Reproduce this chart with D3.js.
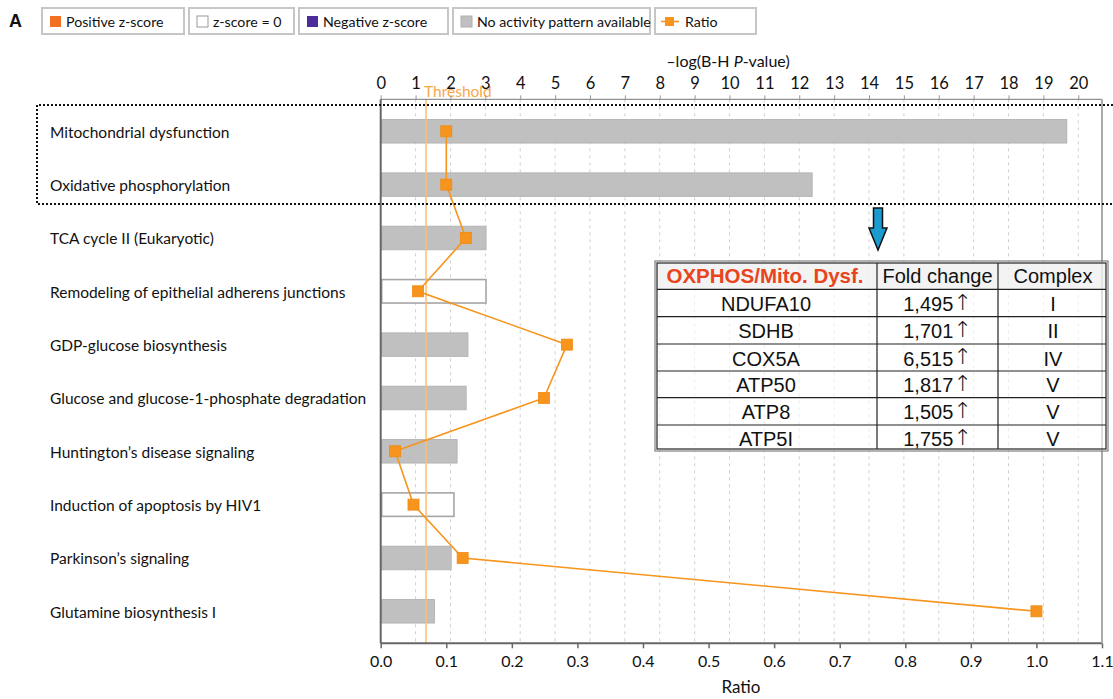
<!DOCTYPE html>
<html>
<head>
<meta charset="utf-8">
<script src="https://cdn.jsdelivr.net/npm/d3@7"></script>
<style>
  body { margin: 0; background: #fff; }
  svg { display: block; }
  .lbl { font-family: Lato, "Open Sans", sans-serif; }
  .tbl { font-family: "Liberation Sans", Arial, sans-serif; }
</style>
</head>
<body>
<svg id="chart" width="1113" height="699"></svg>
<script>
// Data
const categories = [
    'Mitochondrial dysfunction',
    'Oxidative phosphorylation',
    'TCA cycle II (Eukaryotic)',
    'Remodeling of epithelial adherens junctions',
    'GDP-glucose biosynthesis',
    'Glucose and glucose-1-phosphate degradation',
    'Huntington\u2019s disease signaling',
    'Induction of apoptosis by HIV1',
    'Parkinson\u2019s signaling',
    'Glutamine biosynthesis I'
];
const logP = [19.67, 12.37, 3.02, 3.02, 2.50, 2.45, 2.19, 2.10, 2.02, 1.54];
const ratios = [0.10, 0.10, 0.13, 0.057, 0.284, 0.249, 0.022, 0.050, 0.125, 1.0];
const zStatus = ['none', 'none', 'none', 'zero', 'none', 'none', 'none', 'zero', 'none', 'none'];
const threshold = 1.3;

const legendItems = [
    { key: 'pos', label: 'Positive z-score' },
    { key: 'zero', label: 'z-score = 0' },
    { key: 'neg', label: 'Negative z-score' },
    { key: 'none', label: 'No activity pattern available' },
    { key: 'ratio', label: 'Ratio' }
];

const tableHeader = ['OXPHOS/Mito. Dysf.', 'Fold change', 'Complex'];
const tableGenes = ['NDUFA10', 'SDHB', 'COX5A', 'ATP50', 'ATP8', 'ATP5I'];
const tableFold = ['1,495', '1,701', '6,515', '1,817', '1,505', '1,755'];
const tableComplex = ['I', 'II', 'IV', 'V', 'V', 'V'];

const colors = {
    pos: '#f36f21',
    zero: '#ffffff',
    neg: '#4b2c9a',
    none: '#c0c0c0',
    ratio: '#f7941d'
};

const svg = d3.select('#chart');

// Layout
const plotLeft = 380.7, plotRight = 1102, plotTop = 99.3, plotBottom = 643.3;

const xTop = d3.scaleLinear().domain([0, 20.68]).range([plotLeft, plotRight]);
const xBot = d3.scaleLinear().domain([0, 1.1]).range([plotLeft, plotRight]);
const y = d3.scaleBand().domain(categories).range([plotTop, plotBottom])
    .paddingInner(0.56).paddingOuter(0.38);

// Gridlines (dashed, at top-axis integers)
svg.append('g')
    .selectAll('line')
    .data(d3.range(1, 21))
    .join('line')
    .attr('x1', d => xTop(d)).attr('x2', d => xTop(d))
    .attr('y1', plotTop).attr('y2', plotBottom)
    .attr('stroke', '#cfcfcf')
    .attr('stroke-dasharray', '3,4');

// Bars
svg.append('g')
    .selectAll('rect')
    .data(categories)
    .join('rect')
    .attr('x', xTop(0) + 1)
    .attr('y', d => y(d))
    .attr('width', (d, i) => xTop(logP[i]) - xTop(0) - 1)
    .attr('height', y.bandwidth())
    .attr('fill', (d, i) => colors[zStatus[i]])
    .attr('stroke', (d, i) => zStatus[i] === 'zero' ? '#a6a6a6' : '#b4b4b4')
    .attr('stroke-width', (d, i) => zStatus[i] === 'zero' ? 1.6 : 1);

// Threshold
svg.append('line')
    .attr('x1', xTop(threshold)).attr('x2', xTop(threshold))
    .attr('y1', plotTop).attr('y2', plotBottom)
    .attr('stroke', '#fbbf6e')
    .attr('stroke-width', 1.5);
svg.append('text')
    .attr('class', 'lbl')
    .attr('x', xTop(threshold) - 2).attr('y', 97)
    .attr('fill', '#f9a84a')
    .attr('font-size', 15.5)
    .text('Threshold');

// Ratio line + markers
const ratioPts = categories.map((c, i) => [xBot(ratios[i]), y(c) + y.bandwidth() / 2]);
svg.append('path')
    .datum(ratioPts)
    .attr('d', d3.line())
    .attr('fill', 'none')
    .attr('stroke', colors.ratio)
    .attr('stroke-width', 1.6);
svg.append('g')
    .selectAll('rect')
    .data(ratioPts)
    .join('rect')
    .attr('x', d => d[0] - 5.5).attr('y', d => d[1] - 5.5)
    .attr('width', 11).attr('height', 11)
    .attr('fill', colors.ratio)
    .attr('stroke', '#f08a10')
    .attr('stroke-width', 0.8);

// Top axis
const topAxis = d3.axisTop(xTop).tickValues(d3.range(0, 21)).tickSize(4).tickPadding(6).tickFormat(d3.format('d'));
const gTop = svg.append('g').attr('transform', `translate(0,${plotTop})`).call(topAxis);
gTop.select('.domain').attr('stroke', '#777').attr('d', `M${plotLeft},0H${plotRight}`);
gTop.selectAll('.tick line').attr('stroke', '#999');
gTop.selectAll('.tick text').attr('class', 'lbl').attr('font-size', 16.5).attr('fill', '#111');

const topTitle = svg.append('text')
    .attr('class', 'lbl')
    .attr('x', 728).attr('y', 67)
    .attr('text-anchor', 'middle')
    .attr('font-size', 16)
    .attr('fill', '#111');
topTitle.append('tspan').text('\u2013log(B-H ');
topTitle.append('tspan').attr('font-style', 'italic').text('P');
topTitle.append('tspan').text('-value)');

// Bottom axis
const botAxis = d3.axisBottom(xBot).tickValues(d3.range(0, 1.11, 0.1)).tickSize(5).tickPadding(7).tickFormat(d3.format('.1f'));
const gBot = svg.append('g').attr('transform', `translate(0,${plotBottom})`).call(botAxis);
gBot.select('.domain').attr('stroke', '#666').attr('stroke-width', 2).attr('d', `M${plotLeft},0H${plotRight}`);
gBot.selectAll('.tick line').attr('stroke', '#666').attr('stroke-width', 1.5);
gBot.selectAll('.tick text').attr('class', 'lbl').attr('font-size', 16).attr('fill', '#111');

svg.append('text')
    .attr('class', 'lbl')
    .attr('x', 741).attr('y', 693)
    .attr('text-anchor', 'middle')
    .attr('font-size', 17)
    .attr('fill', '#111')
    .text('Ratio');

// Left axis and right border
svg.append('line')
    .attr('x1', plotLeft).attr('x2', plotLeft).attr('y1', plotTop).attr('y2', plotBottom)
    .attr('stroke', '#666').attr('stroke-width', 2);
svg.append('line')
    .attr('x1', plotRight).attr('x2', plotRight).attr('y1', plotTop).attr('y2', plotBottom)
    .attr('stroke', '#aaa').attr('stroke-width', 2);

// Category labels
svg.append('g')
    .selectAll('text')
    .data(categories)
    .join('text')
    .attr('class', 'lbl')
    .attr('x', 50)
    .attr('y', d => y(d) + y.bandwidth() / 2 + 1)
    .attr('dy', '0.35em')
    .attr('font-size', 15.5)
    .attr('fill', '#111')
    .text(d => d);

// Dotted highlight box
svg.append('path')
    .attr('d', `M1113,105H37V204H1113`)
    .attr('fill', 'none')
    .attr('stroke', '#111')
    .attr('stroke-width', 2)
    .attr('stroke-dasharray', '2,2');

// Arrow
svg.append('path')
    .attr('d', 'M873.5,208H882.5V228H887L878,250L869,228H873.5Z')
    .attr('fill', '#1b9bd0')
    .attr('stroke', '#111')
    .attr('stroke-width', 1.5);

// Table
const colX = [655, 877, 998, 1108];
const rowY = [261, 289.3, 316.7, 344, 371, 397.7, 425, 451];
const tbl = svg.append('g').attr('class', 'tbl');
tbl.append('rect')
    .attr('x', colX[0]).attr('y', rowY[0])
    .attr('width', colX[3] - colX[0]).attr('height', rowY[7] - rowY[0])
    .attr('fill', 'rgba(255,255,255,0.6)');
tbl.append('rect')
    .attr('x', colX[0] + 2).attr('y', rowY[0] + 2)
    .attr('width', colX[3] - colX[0] - 4).attr('height', rowY[1] - rowY[0] - 2)
    .attr('fill', 'rgba(235,235,235,0.6)');
tbl.append('rect')
    .attr('x', colX[0]).attr('y', rowY[0])
    .attr('width', colX[3] - colX[0]).attr('height', rowY[7] - rowY[0])
    .attr('fill', 'none').attr('stroke', '#666').attr('stroke-width', 1);
tbl.append('rect')
    .attr('x', colX[0] + 2).attr('y', rowY[0] + 2)
    .attr('width', colX[3] - colX[0] - 4).attr('height', rowY[7] - rowY[0] - 4)
    .attr('fill', 'none').attr('stroke', '#222').attr('stroke-width', 1.2);
tbl.selectAll('line.row')
    .data(rowY.slice(1, 7))
    .join('line')
    .attr('x1', colX[0] + 2).attr('x2', colX[3] - 2)
    .attr('y1', d => d).attr('y2', d => d)
    .attr('stroke', '#222').attr('stroke-width', 1.2);
tbl.selectAll('line.col')
    .data(colX.slice(1, 3))
    .join('line')
    .attr('x1', d => d).attr('x2', d => d)
    .attr('y1', rowY[0] + 2).attr('y2', rowY[7] - 2)
    .attr('stroke', '#222').attr('stroke-width', 1.2);

const colMid = [0, 1, 2].map(i => (colX[i] + colX[i + 1]) / 2);
tbl.selectAll('text.head')
    .data(tableHeader)
    .join('text')
    .attr('x', (d, i) => colMid[i] + (i === 0 ? -1 : 0))
    .attr('y', (rowY[0] + rowY[1]) / 2 + 1)
    .attr('dy', '0.35em')
    .attr('text-anchor', 'middle')
    .attr('font-size', (d, i) => i === 0 ? 20.5 : 20)
    .attr('font-weight', (d, i) => i === 0 ? 'bold' : 'normal')
    .attr('fill', (d, i) => i === 0 ? '#e8441d' : '#111')
    .text(d => d);

const bodyCols = [tableGenes, tableFold, tableComplex];
bodyCols.forEach((col, c) => {
    const t = tbl.append('g')
        .selectAll('text')
        .data(col)
        .join('text')
        .attr('x', colMid[c])
        .attr('y', (d, r) => (rowY[r + 1] + rowY[r + 2]) / 2 + 1)
        .attr('dy', '0.35em')
        .attr('text-anchor', 'middle')
        .attr('font-size', 20)
        .attr('fill', '#111')
        .text(d => d);
    if (c === 1) {
        t.append('tspan')
            .attr('font-family', '"DejaVu Sans", sans-serif')
            .attr('font-weight', 200)
            .attr('font-size', 22)
            .attr('dy', '-0.05em')
            .text('\u2191');
    }
});

// Legend
svg.append('text')
    .attr('x', 9).attr('y', 27)
    .attr('font-family', '"Liberation Sans", Arial, sans-serif')
    .attr('font-weight', 'bold')
    .attr('font-size', 18)
    .attr('fill', '#111')
    .text('A');

const legendX = [42, 189, 299, 453, 655];
const legendW = [142, 105, 149, 197, 101];
const lg = svg.append('g').selectAll('g')
    .data(legendItems)
    .join('g')
    .attr('transform', (d, i) => `translate(${legendX[i]},8)`);
lg.append('rect')
    .attr('width', (d, i) => legendW[i]).attr('height', 26)
    .attr('fill', '#fff').attr('stroke', '#c6c6c6').attr('stroke-width', 2);
lg.filter(d => d.key !== 'ratio').append('rect')
    .attr('x', 8).attr('y', 8).attr('width', 11).attr('height', 11)
    .attr('fill', d => colors[d.key])
    .attr('stroke', d => d.key === 'zero' ? '#999' : d.key === 'none' ? '#b0b0b0' : 'none')
    .attr('stroke-width', 1);
const ratioLg = lg.filter(d => d.key === 'ratio');
ratioLg.append('line')
    .attr('x1', 6).attr('x2', 24).attr('y1', 13.5).attr('y2', 13.5)
    .attr('stroke', colors.ratio).attr('stroke-width', 1.6);
ratioLg.append('rect')
    .attr('x', 10).attr('y', 9).attr('width', 9).attr('height', 9)
    .attr('fill', colors.ratio);
lg.append('text')
    .attr('class', 'lbl')
    .attr('x', d => d.key === 'ratio' ? 30 : 24)
    .attr('y', 14)
    .attr('dy', '0.35em')
    .attr('font-size', 14.2)
    .attr('fill', '#111')
    .text(d => d.label);
</script>
</body>
</html>
